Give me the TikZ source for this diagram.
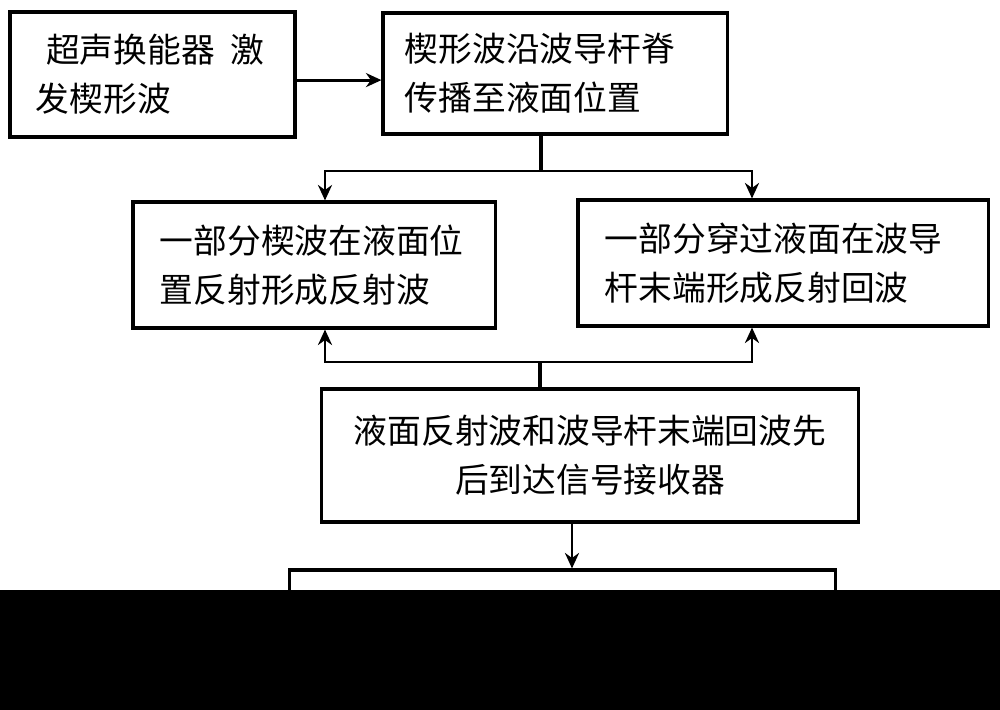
\documentclass[tikz,border=0pt]{standalone}
\usepackage{fontspec}
\newfontfamily\cjk{Noto Sans CJK SC}
\usepackage{tikz}
\usetikzlibrary{positioning,arrows.meta,calc}

\begin{document}
\begin{tikzpicture} [
			x=0.025cm,y=-0.025cm,
			box/.style={draw,rectangle,line width=2.2pt,align=left,inner ysep=0pt,
				font=\cjk\fontsize{24}{35}\selectfont},
			arrow/.style={-{Stealth[length=11pt,width=10pt]},line width=2pt},
			line/.style={line width=2.4pt},
		]
		
		\useasboundingbox (0,0) rectangle (1000,710);
		
		\node[box,text width=5.825cm,inner xsep=0.65cm,minimum height=3.125cm] (transducer) at (152.5,74.5)
			{\mbox{\hspace{0.3em}超声换能器\hspace{0.45em}激}\\发楔形波};
		\node[box,text width=7.5cm,inner xsep=0.55cm,minimum height=3.025cm] (propagate) at (555,73.5)
			{楔形波沿波导杆脊\\传播至液面位置};
		\node[box,text width=7.7cm,inner xsep=0.675cm,minimum height=3.15cm] (reflect) at (314,265)
			{一部分楔波在液面位\\置反射形成反射波};
		\node[box,text width=8.9cm,inner xsep=0.675cm,minimum height=3.15cm] (echo) at (783,263)
			{一部分穿过液面在波导\\杆末端形成反射回波};
		\node[box,align=center,minimum width=13.4cm,minimum height=3.325cm] (receiver) at (590,455.5)
			{液面反射波和波导杆末端回波先\\后到达信号接收器};
		\node[box,minimum width=13.625cm,minimum height=3.75cm] (result) at (562.5,645) {};
		
		\coordinate (fork) at (541,171);
		\coordinate (join) at (540,362);
		\coordinate (colL) at (325,0);
		\coordinate (colR) at (752,0);
		\coordinate (colM) at (572,0);
		
		\draw[arrow] ([yshift=-0.14cm]transducer.east) -- ([yshift=-0.14cm]transducer.east -| propagate.west);
		
		\draw[line] (propagate.south -| fork) -- (fork);
		\draw[arrow] (fork) -| (colL |- reflect.north);
		\draw[arrow] (fork) -| (colR |- echo.north);
		
		\draw[line] (receiver.north -| join) -- (join);
		\draw[arrow] (join) -| (colL |- reflect.south);
		\draw[arrow] (join) -| (colR |- echo.south);
		
		\draw[arrow] (colM |- receiver.south) -- (colM |- result.north);
		
		% lower part of the page is blacked out
		\fill[black] (0,590) rectangle (1000,710);
		
	\end{tikzpicture}
\end{document}
